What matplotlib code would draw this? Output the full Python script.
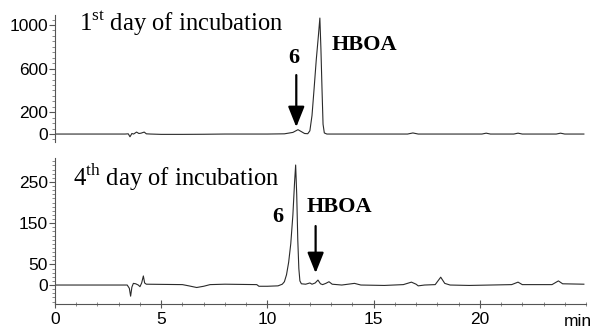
import matplotlib
matplotlib.use("Agg")
import matplotlib.pyplot as plt
from matplotlib.ticker import MultipleLocator, FixedLocator

# ---- data (time in min, detector signal) ----
t_day1 = [0, 3.3, 3.45, 3.53, 3.62, 3.7, 3.84, 3.95, 4.05, 4.2, 4.3, 4.5, 5.0, 6.0, 7.0, 8.0,
          9.0, 10.0, 10.8, 11.2, 11.44, 11.6, 11.75, 11.9, 12.0, 12.1, 12.2, 12.3, 12.4, 12.47,
          12.52, 12.57, 12.62, 12.68, 12.8, 13.0, 16.6, 16.85, 17.1, 20.1, 20.3, 20.5, 21.6,
          21.8, 22.0, 23.6, 23.8, 24.0, 24.9]
s_day1 = [0, 0, 2, -25, 5, 0, 18, 5, 8, 18, 2, 0, -3, -3, -2, 0,
          0, 0, 2, 15, 40, 22, 5, 3, 30, 170, 420, 680, 900, 1064,
          780, 420, 90, 10, 0, 0, 0, 10, 0, 0, 8, 0, 0,
          8, 0, 0, 8, 0, 0]

t_day4 = [0, 3.4, 3.5, 3.56, 3.62, 3.69, 3.8, 3.92, 4.0, 4.08, 4.16, 4.22, 4.3, 6.0, 6.3,
          6.67, 7.0, 7.3, 8.0, 9.5, 9.6, 10.0, 10.5, 10.7, 10.8, 10.9, 11.0, 11.1, 11.2,
          11.28, 11.33, 11.38, 11.43, 11.48, 11.53, 11.6, 11.8, 12.0, 12.1, 12.25, 12.38,
          12.5, 12.6, 12.75, 12.9, 13.05, 13.5, 14.1, 14.4, 15.5, 16.4, 16.78, 17.0, 17.1,
          17.4, 17.9, 18.16, 18.35, 18.6, 19.5, 20.5, 21.5, 21.8, 22.0, 23.4, 23.7, 23.9, 24.9]
s_day4 = [0, 0, -8, -27, -5, 4, 3, 0, -4, 5, 22, 5, 2, 1, -2,
          -6, -3, 1, 2, 1, -3, -3, -2, 2, 8, 25, 55, 100, 170,
          250, 291, 220, 110, 40, 10, 3, 2, 5, 2, 5, 12,
          3, 1, 4, 8, 2, 0, 4, 0, -1, 1, 7, 2, -2,
          0, 1, 19, 4, 0, -1, 0, 1, 7, 1, 1, 10, 3, 2]

x_ticks = [0, 5, 10, 15, 20]
y_ticks_day1 = [0, 200, 600, 1000]
y_ticks_day4 = [0, 50, 150, 250]

plt.rcParams['mathtext.fontset'] = 'custom'
plt.rcParams['mathtext.rm'] = 'Liberation Serif'

W, H = 593, 329
fig = plt.figure(figsize=(W / 100, H / 100), dpi=100)

def rect(x0, y0, x1, y1):
    return [x0 / W, 1 - y1 / H, (x1 - x0) / W, (y1 - y0) / H]

ax1 = fig.add_axes(rect(55, 15, 586, 142))
ax2 = fig.add_axes(rect(55, 158, 586, 304))

line_c = '#2a2a2a'
sans = 'Liberation Sans'
serif = 'Liberation Serif'

for ax in (ax1, ax2):
    ax.set_xlim(0, 25)
    for s in ('top', 'right'):
        ax.spines[s].set_visible(False)
    ax.spines['left'].set_color('#555555')
    ax.spines['left'].set_linewidth(0.8)
    ax.tick_params(axis='y', which='major', direction='out', length=4, width=0.8,
                   colors='#555555', labelcolor='black', labelsize=12.5, pad=1)
    ax.tick_params(axis='y', which='minor', direction='out', length=2, width=0.6,
                   colors='#777777')

ax1.plot(t_day1, s_day1, color=line_c, lw=0.8)
ax1.set_ylim(-73, 1092)
ax1.spines['bottom'].set_visible(False)
ax1.set_xticks([])
ax1.yaxis.set_major_locator(FixedLocator(y_ticks_day1))
ax1.yaxis.set_minor_locator(MultipleLocator(50))
ax1.set_yticklabels([str(v) for v in y_ticks_day1], fontfamily=sans, fontsize=12.5)

ax2.plot(t_day4, s_day4, color=line_c, lw=0.8)
ax2.set_ylim(-46, 308)
ax2.yaxis.set_major_locator(FixedLocator(y_ticks_day4))
ax2.yaxis.set_minor_locator(MultipleLocator(10))
ax2.set_yticklabels([str(v) for v in y_ticks_day4], fontfamily=sans, fontsize=12.5)
ax2.set_xticks(x_ticks)
ax2.set_xticklabels([str(v) for v in x_ticks], fontfamily=sans, fontsize=12.5)
ax2.xaxis.set_minor_locator(MultipleLocator(1))
ax2.spines['bottom'].set_color('#555555')
ax2.spines['bottom'].set_linewidth(0.8)
ax2.tick_params(axis='x', which='major', direction='inout', length=6, width=0.8,
                colors='#555555', labelcolor='black', pad=3)
ax2.tick_params(axis='x', which='minor', direction='inout', length=3, width=0.6,
                colors='#777777')
fig.text(578 / W, 1 - 322 / H, 'min', fontfamily=sans, fontsize=12.5,
         ha='center', va='center')

# titles
ax1.text(1.13, 945, r'1$^{\rm st}$ day of incubation', fontfamily=serif, fontsize=17.7,
         ha='left', va='baseline')
ax2.text(0.85, 240, r'4$^{\rm th}$ day of incubation', fontfamily=serif, fontsize=17.7,
         ha='left', va='baseline')

# peak labels
ax1.text(11.25, 702, '6', fontfamily=serif, fontweight='bold', fontsize=16,
         ha='center', va='center')
ax1.text(13.03, 817, 'HBOA', fontfamily=serif, fontweight='bold', fontsize=16,
         ha='left', va='center')
ax2.text(10.49, 165, '6', fontfamily=serif, fontweight='bold', fontsize=16,
         ha='center', va='center')
ax2.text(11.86, 190, 'HBOA', fontfamily=serif, fontweight='bold', fontsize=16,
         ha='left', va='center')

arrow_kw = dict(arrowstyle='-|>,head_length=1.25,head_width=0.5', color='black', lw=1.6,
                shrinkA=0, shrinkB=0)
ax1.annotate('', xy=(11.36, 64), xytext=(11.36, 541), arrowprops=arrow_kw)
ax2.annotate('', xy=(12.27, 29), xytext=(12.27, 143), arrowprops=arrow_kw)

fig.savefig('out.png', dpi=100)
